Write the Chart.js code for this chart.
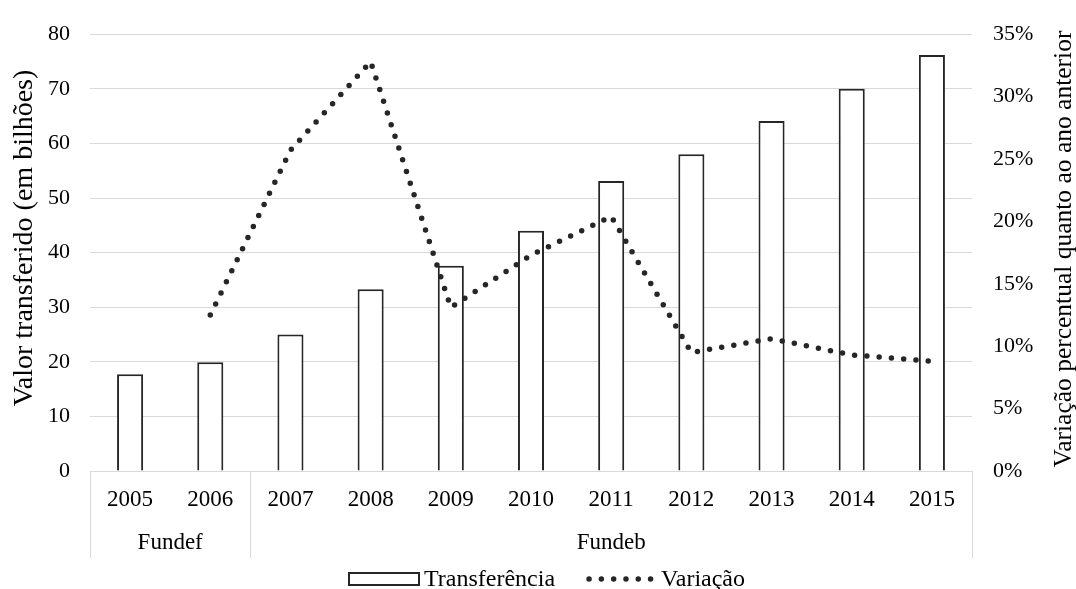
<!DOCTYPE html>
<html>
<head>
<meta charset="utf-8">
<script src="https://cdn.jsdelivr.net/npm/chart.js@4.4.1/dist/chart.umd.min.js"></script>
<style>
    html, body { margin: 0; padding: 0; background: #fff; }
    #wrap { width: 1076px; height: 589px; }
</style>
</head>
<body>
<div id="wrap"><canvas id="fundosChart"></canvas></div>
<script>
// dados
const years = ["2005", "2006", "2007", "2008", "2009", "2010", "2011", "2012", "2013", "2014", "2015"];
const groupNames = ["Fundef", "Fundeb"];
const groupSizes = [2, 9];
const transferencia = [17.7, 19.9, 25.0, 33.3, 37.6, 44.0, 53.1, 58.0, 64.1, 70.0, 76.2];
const variacao = [null, 12.5, 25.7, 32.8, 13.1, 17.3, 20.4, 9.5, 10.6, 9.3, 8.8];
const valorTicks = [0, 10, 20, 30, 40, 50, 60, 70, 80];
const pctTicks = [0, 5, 10, 15, 20, 25, 30, 35];

const FONT = "'Liberation Serif', 'Times New Roman', serif";
const INK = "#262626";
const GRID = "#d9d9d9";
const DOTS = [0, 12.3];

const extras = {
    id: "extras",
    afterDraw(chart) {
        const { ctx, chartArea, scales } = chart;
        const x = scales.x;
        const bottom = chartArea.bottom;
        ctx.save();

        // separadores das categorias agrupadas
        const edges = [chartArea.left];
        let idx = 0;
        groupSizes.forEach((n) => {
            idx += n;
            if (idx < years.length) {
                edges.push((x.getPixelForValue(idx - 1) + x.getPixelForValue(idx)) / 2);
            } else {
                edges.push(chartArea.right);
            }
        });
        ctx.strokeStyle = GRID;
        ctx.lineWidth = 1;
        edges.forEach((px) => {
            const xx = Math.round(px) + 0.5;
            ctx.beginPath();
            ctx.moveTo(xx, bottom);
            ctx.lineTo(xx, bottom + 87);
            ctx.stroke();
        });

        // rótulos dos grupos
        ctx.fillStyle = "#000";
        ctx.font = "23px " + FONT;
        ctx.textAlign = "center";
        ctx.textBaseline = "middle";
        groupNames.forEach((name, i) => {
            ctx.fillText(name, (edges[i] + edges[i + 1]) / 2, bottom + 72);
        });

        // títulos dos eixos (ambos de baixo para cima)
        ctx.textBaseline = "alphabetic";
        ctx.font = "28px " + FONT;
        ctx.save();
        ctx.translate(32, 238);
        ctx.rotate(-Math.PI / 2);
        ctx.fillText("Valor transferido (em bilhões)", 0, 0);
        ctx.restore();
        ctx.font = "25.5px " + FONT;
        ctx.save();
        ctx.translate(1071, 249);
        ctx.rotate(-Math.PI / 2);
        ctx.fillText("Variação percentual quanto ao ano anterior", 0, 0);
        ctx.restore();

        // legenda
        const ds = chart.data.datasets;
        ctx.font = "24px " + FONT;
        ctx.textAlign = "left";
        ctx.textBaseline = "middle";
        const w1 = ctx.measureText(ds[0].label).width;
        const w2 = ctx.measureText(ds[1].label).width;
        const boxW = 70, lineW = 67, gap = 5, between = 34;
        const total = boxW + gap + w1 + between + lineW + gap + w2;
        let lx = chart.width / 2 + 9 - total / 2;
        const ly = 579;
        ctx.fillStyle = "#fff";
        ctx.strokeStyle = INK;
        ctx.lineWidth = 2;
        ctx.fillRect(lx, ly - 6, boxW, 12);
        ctx.strokeRect(lx, ly - 6, boxW, 12);
        lx += boxW + gap;
        ctx.fillStyle = "#000";
        ctx.fillText(ds[0].label, lx, ly + 1);
        lx += w1 + between;
        ctx.beginPath();
        ctx.setLineDash(DOTS);
        ctx.lineCap = "round";
        ctx.lineWidth = 5.5;
        ctx.moveTo(lx, ly);
        ctx.lineTo(lx + lineW, ly);
        ctx.stroke();
        ctx.setLineDash([]);
        lx += lineW + gap;
        ctx.fillText(ds[1].label, lx, ly + 1);

        ctx.restore();
    }
};

const ctx = document.getElementById("fundosChart").getContext("2d");
const fundosChart = new Chart(ctx, {
    type: "bar",
    data: {
        labels: years,
        datasets: [
            {
                label: "Transferência",
                data: transferencia,
                backgroundColor: "#ffffff",
                borderColor: INK,
                borderWidth: 2,
                barPercentage: 0.325,
                categoryPercentage: 1,
                yAxisID: "y",
                order: 2,
            },
            {
                type: "line",
                label: "Variação",
                data: variacao,
                borderColor: INK,
                borderWidth: 5.5,
                borderDash: DOTS,
                borderCapStyle: "round",
                pointRadius: 0,
                tension: 0,
                fill: false,
                yAxisID: "y1",
                order: 1,
            },
        ],
    },
    options: {
        responsive: true,
        maintainAspectRatio: false,
        animation: false,
        devicePixelRatio: 1,
        layout: { padding: { top: 24, bottom: 23, left: 0, right: 0 } },
        plugins: {
            legend: { display: false },
            tooltip: { enabled: false },
        },
        scales: {
            x: {
                grid: { display: false, drawTicks: false },
                border: { display: true, color: GRID, width: 1 },
                ticks: {
                    color: "#000",
                    font: { family: FONT, size: 23 },
                    padding: 15,
                    maxRotation: 0,
                    autoSkip: false,
                },
                afterFit(s) { s.height = 95; },
            },
            y: {
                position: "left",
                min: valorTicks[0],
                max: valorTicks[valorTicks.length - 1],
                afterBuildTicks(s) { s.ticks = valorTicks.map((v) => ({ value: v })); },
                grid: { color: GRID, lineWidth: 1, drawTicks: false },
                border: { display: false },
                ticks: {
                    color: "#000",
                    font: { family: FONT, size: 22 },
                    padding: 20,
                },
                afterFit(s) { s.width = 90; },
            },
            y1: {
                position: "right",
                min: pctTicks[0],
                max: pctTicks[pctTicks.length - 1],
                afterBuildTicks(s) { s.ticks = pctTicks.map((v) => ({ value: v })); },
                grid: { drawOnChartArea: false, drawTicks: false },
                border: { display: false },
                ticks: {
                    color: "#000",
                    font: { family: FONT, size: 22 },
                    padding: 21,
                    callback: (v) => v + "%",
                },
                afterFit(s) { s.width = 104; },
            },
        },
    },
    plugins: [extras],
});
</script>
</body>
</html>
